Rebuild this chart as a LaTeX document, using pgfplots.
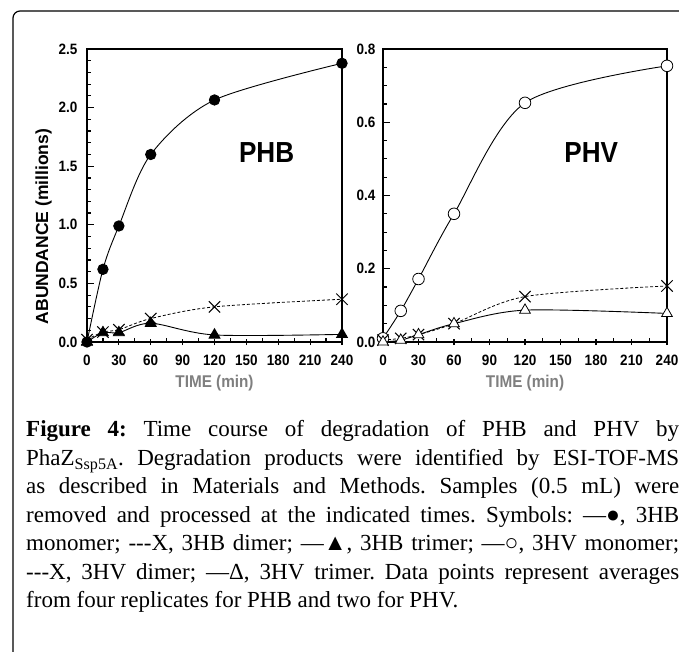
\documentclass[border=0pt]{standalone}
\usepackage{pgfplots}
\pgfplotsset{compat=1.18}
\usepackage{fontspec}
\setmainfont{Liberation Serif}
\newfontfamily\cf{Liberation Sans}
\newfontfamily\cfn{Liberation Sans}[FakeStretch=0.9]
\definecolor{labgray}{HTML}{7F7F7F}
\frenchspacing

\pgfplotsset{myax/.style={
  scale only axis, height=293pt, anchor=south west,
  xmin=0, xmax=240, xtick={0,30,...,240}, minor x tick num=1,
  tick align=inside, major tick length=6.5pt, minor tick length=3.5pt,
  tick pos=left,
  axis line style={line width=1.6pt},
  every tick/.style={black, line width=1.2pt},
  major x tick style={yshift=-3.2pt},
  tick label style={font=\cfn\bfseries\fontsize{15}{15}\selectfont},
  /pgf/number format/assume math mode=true,
  yticklabel style={/pgf/number format/fixed, /pgf/number format/fixed zerofill, /pgf/number format/precision=1},
  xticklabel style={yshift=-9pt},
  xlabel={TIME (min)},
  xlabel style={font=\cfn\bfseries\fontsize{17}{17}\selectfont, text=labgray, yshift=-3pt},
  clip=false,
  every axis plot/.append style={black, line width=0.9pt},
}}
\begin{document}
\begin{tikzpicture}[x=1pt,y=1pt]
% ---------- PHB ----------
\begin{axis}[myax, at={(87pt,310pt)}, width=255pt,
  ymin=0, ymax=2.5, ytick={0,0.5,...,2.5}, minor y tick num=4,
  ylabel={ABUNDANCE (millions)},
  ylabel style={font=\cf\bfseries\fontsize{17.5}{18}\selectfont, at={(ticklabel cs:0.394)}},
  yticklabel style={xshift=-6pt}]
\addplot[smooth, mark=*, mark size=5.2pt] coordinates {(0,0) (15,0.62) (30,0.99) (60,1.60) (120,2.065) (240,2.378)};
\addplot[smooth, densely dashed, line width=0.8pt, mark=x, mark size=8pt, mark options={solid, line width=1pt}] coordinates {(0,0.02) (15,0.085) (30,0.105) (60,0.20) (120,0.30) (240,0.365)};
\addplot[smooth, mark=triangle*, mark size=6.2pt] coordinates {(0,0) (15,0.08) (30,0.08) (60,0.16) (120,0.06) (240,0.065)};
\node[font=\cfn\bfseries\fontsize{29}{30}\selectfont] at (axis cs:169,1.62) {PHB};
\end{axis}

% ---------- PHV ----------
\begin{axis}[myax, at={(383pt,310pt)}, width=284pt,
  ymin=0, ymax=0.8, ytick={0,0.2,...,0.8}, minor y tick num=3,
  yticklabel style={xshift=-4pt}]
\addplot[smooth, mark=*, mark size=5.8pt, mark options={fill=white, line width=0.8pt}] coordinates {(0,0.01) (15,0.085) (30,0.172) (60,0.35) (120,0.653) (240,0.754)};
\addplot[smooth, densely dashed, line width=0.8pt, mark=x, mark size=8pt, mark options={solid, line width=1pt}] coordinates {(0,0.005) (15,0.01) (30,0.02) (60,0.05) (120,0.124) (240,0.153)};
\addplot[smooth, mark=triangle*, mark size=6.2pt, mark options={fill=white, line width=0.8pt}] coordinates {(0,0) (15,0.005) (30,0.02) (60,0.05) (120,0.087) (240,0.078)};
\node[font=\cfn\bfseries\fontsize{29}{30}\selectfont] at (axis cs:176,0.516) {PHV};
\end{axis}

\begin{scope}
\clip (0,0) rectangle (679,652);
\draw[line width=1.2pt, rounded corners=7pt] (13,-20) -- (13,641) -- (700,641);
\begin{scope}[every node/.style={anchor=base west, inner sep=0pt, font=\fontsize{23}{28.5}\selectfont}]
\node at (26,215) {\makebox[653pt][s]{\textbf{Figure 4:} Time course of degradation of PHB and PHV by}};
\node at (26,186.5) {\makebox[653pt][s]{PhaZ\textsubscript{Ssp5A}. Degradation products were identified by ESI-TOF-MS}};
\node at (26,158) {\makebox[653pt][s]{as described in Materials and Methods. Samples (0.5 mL) were}};
\node at (26,129.5) {\makebox[653pt][s]{removed and processed at the indicated times. Symbols: —●, 3HB}};
\node at (26,101) {\makebox[653pt][s]{monomer; -{}-{}-X, 3HB dimer; —▲, 3HB trimer; —○, 3HV monomer;}};
\node at (26,72.5) {\makebox[653pt][s]{-{}-{}-X, 3HV dimer; —Δ, 3HV trimer. Data points represent averages}};
\node at (26,44) {from four replicates for PHB and two for PHV.};
\end{scope}
\end{scope}
\pgfresetboundingbox
\useasboundingbox (0,0) rectangle (679,652);
\end{tikzpicture}
\end{document}
